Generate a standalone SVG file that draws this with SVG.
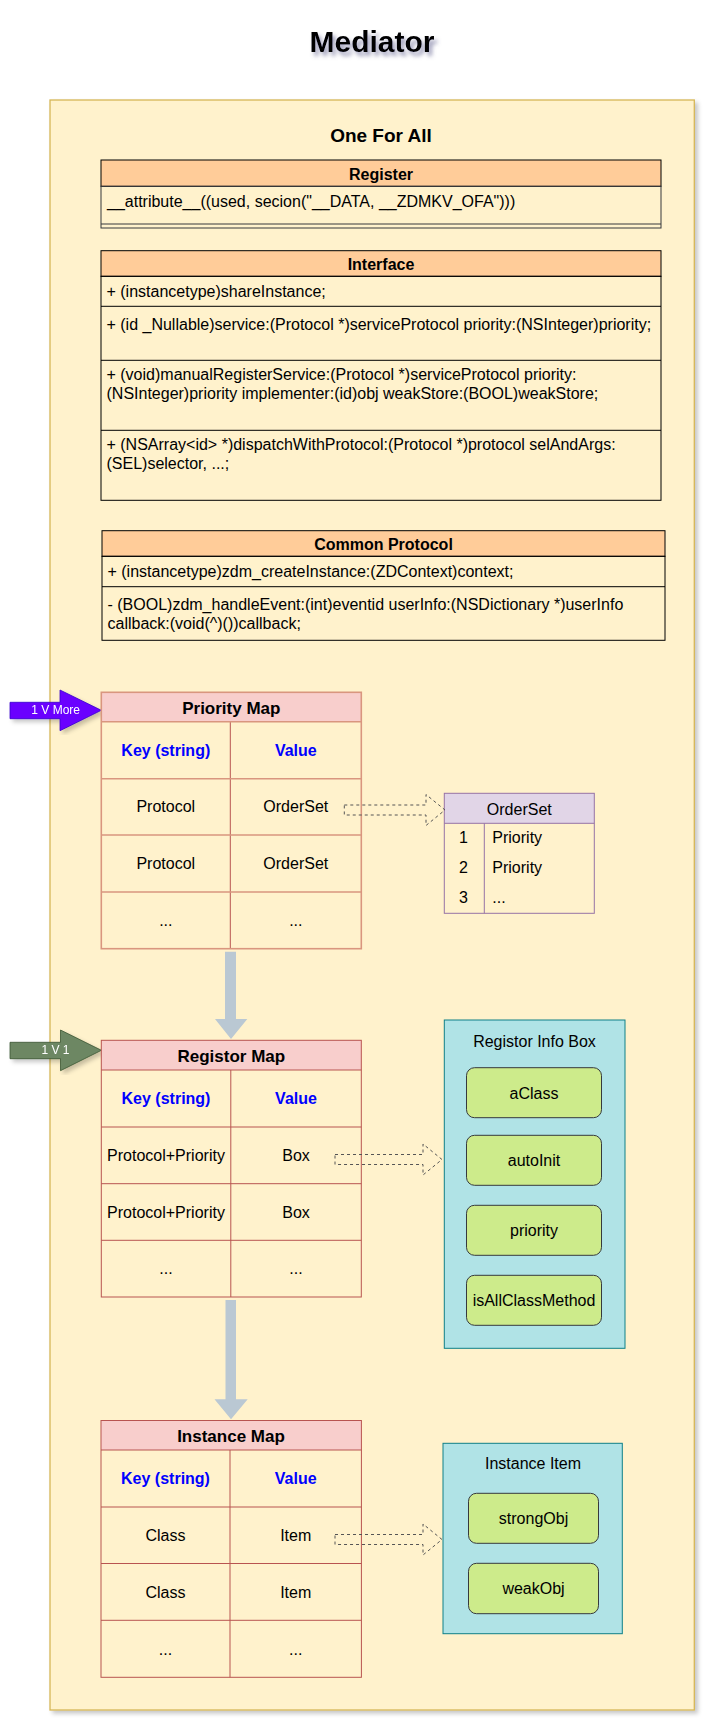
<svg xmlns="http://www.w3.org/2000/svg" width="711" height="1727" viewBox="0 0 711 1727">
<defs>
<filter id="sh" x="-5%" y="-5%" width="115%" height="115%"><feDropShadow dx="3" dy="3" stdDeviation="2" flood-color="#000" flood-opacity="0.22"/></filter>
<filter id="tsh" x="-20%" y="-40%" width="150%" height="200%"><feDropShadow dx="3" dy="4" stdDeviation="2.2" flood-color="#5a5a8a" flood-opacity="0.6"/></filter>
<style>
text{font-family:"Liberation Sans",Arial,Helvetica,sans-serif;fill:#000;}
.t16{font-size:16px;}
.c{text-anchor:middle;}
.b{font-weight:bold;}
.blue{fill:#0000ff;font-weight:bold;font-size:16px;text-anchor:middle;}
.hdr{fill:#ffcc99;stroke:#000;stroke-width:1;}
.body{fill:none;stroke:#000;stroke-width:1;}
.mapH{fill:#f8cecc;}
.pm{stroke:#d9967f;stroke-width:1.6;fill:none;}
.rm{stroke:#b85450;stroke-width:1;fill:none;}
.grn{fill:#cdeb8b;stroke:#36393d;stroke-width:1;}
.cyan{fill:#b0e3e6;stroke:#0e8088;stroke-width:1;}
.dash{fill:none;stroke:#555;stroke-width:1;stroke-dasharray:3 3;}
.thick{fill:#bac8d3;stroke:none;}
</style>
</defs>
<rect width="711" height="1727" fill="#fff"/>

<g id="title">
<text x="372" y="52" class="c b" font-size="30" filter="url(#tsh)">Mediator</text>
</g>

<g id="container">
<rect x="50" y="100" width="644.3" height="1610" fill="#fff2cc" stroke="#d6b656" stroke-width="1.3" filter="url(#sh)"/>
<text x="381" y="141.5" class="c b" font-size="19">One For All</text>
</g>

<g id="register">
<rect x="101" y="160" width="560" height="26.3" class="hdr" stroke="#36393d"/>
<rect x="101" y="186.3" width="560" height="41.7" fill="none" stroke="#36393d"/>
<line x1="101" y1="224" x2="661" y2="224" stroke="#36393d"/>
<text x="381" y="180" class="t16 c b">Register</text>
<text x="107" y="206.5" class="t16">__attribute__((used, secion("__DATA, __ZDMKV_OFA")))</text>
</g>

<g id="interface">
<rect x="101" y="250.7" width="560" height="25.6" class="hdr"/>
<rect x="101" y="276.3" width="560" height="224" class="body"/>
<line x1="101" y1="306.3" x2="661" y2="306.3" stroke="#000"/>
<line x1="101" y1="360.3" x2="661" y2="360.3" stroke="#000"/>
<line x1="101" y1="430.3" x2="661" y2="430.3" stroke="#000"/>
<text x="381" y="270" class="t16 c b">Interface</text>
<text x="106.5" y="296.5" class="t16">+ (instancetype)shareInstance;</text>
<text x="106.5" y="330" class="t16">+ (id _Nullable)service:(Protocol *)serviceProtocol priority:(NSInteger)priority;</text>
<text x="106.5" y="380" class="t16">+ (void)manualRegisterService:(Protocol *)serviceProtocol priority:</text>
<text x="106.5" y="399.3" class="t16">(NSInteger)priority implementer:(id)obj weakStore:(BOOL)weakStore;</text>
<text x="106.5" y="450" class="t16">+ (NSArray&lt;id&gt; *)dispatchWithProtocol:(Protocol *)protocol selAndArgs:</text>
<text x="106.5" y="469.3" class="t16">(SEL)selector, ...;</text>
</g>

<g id="common-protocol">
<rect x="102" y="530.7" width="563" height="25.6" class="hdr"/>
<rect x="102" y="556.3" width="563" height="84" class="body"/>
<line x1="102" y1="586.7" x2="665" y2="586.7" stroke="#000"/>
<text x="383.5" y="550" class="t16 c b">Common Protocol</text>
<text x="107.5" y="576.7" class="t16">+ (instancetype)zdm_createInstance:(ZDContext)context;</text>
<text x="107.5" y="610" class="t16">- (BOOL)zdm_handleEvent:(int)eventid userInfo:(NSDictionary *)userInfo</text>
<text x="107.5" y="629.3" class="t16">callback:(void(^)())callback;</text>
</g>

<g id="arrow-1vmore" filter="url(#sh)">
<polygon points="10,702.3 60,702.3 60,690 101.3,710.3 60,730.7 60,718.7 10,718.7" fill="#6a00ff" stroke="#3700cc" stroke-width="0.8"/>
<text x="55.7" y="714" class="c" font-size="12" style="fill:#fff">1 V More</text>
</g>

<g id="priority-map">
<rect x="101.3" y="692.3" width="260" height="29.4" class="mapH"/>
<line x1="230.3" y1="721.7" x2="230.3" y2="948.7" stroke="#b85450"/>
<rect x="101.3" y="692.3" width="260" height="256.4" class="pm"/>
<line x1="101.3" y1="721.7" x2="361.3" y2="721.7" class="pm"/>
<line x1="101.3" y1="778.7" x2="361.3" y2="778.7" class="pm"/>
<line x1="101.3" y1="835" x2="361.3" y2="835" class="pm"/>
<line x1="101.3" y1="892" x2="361.3" y2="892" class="pm"/>
<text x="231.3" y="713.5" class="c b" font-size="17">Priority Map</text>
<text x="165.8" y="756" class="blue">Key (string)</text>
<text x="295.8" y="756" class="blue">Value</text>
<text x="165.8" y="812.3" class="t16 c">Protocol</text>
<text x="295.8" y="812.3" class="t16 c">OrderSet</text>
<text x="165.8" y="869" class="t16 c">Protocol</text>
<text x="295.8" y="869" class="t16 c">OrderSet</text>
<text x="165.8" y="926" class="t16 c">...</text>
<text x="295.8" y="926" class="t16 c">...</text>
</g>

<g id="orderset">
<rect x="444.3" y="793.3" width="150" height="30" fill="#e1d5e7"/>
<rect x="444.3" y="793.3" width="150" height="120" fill="none" stroke="#9673a6"/>
<line x1="444.3" y1="823.3" x2="594.3" y2="823.3" stroke="#9673a6"/>
<line x1="484.3" y1="823.3" x2="484.3" y2="913.3" stroke="#9673a6"/>
<text x="519.3" y="814.5" class="t16 c">OrderSet</text>
<text x="463.5" y="843.3" class="t16 c">1</text>
<text x="492.3" y="843.3" class="t16">Priority</text>
<text x="463.5" y="873.3" class="t16 c">2</text>
<text x="492.3" y="873.3" class="t16">Priority</text>
<text x="463.5" y="902.7" class="t16 c">3</text>
<text x="492.3" y="902.7" class="t16">...</text>
</g>

<g id="arrow-1v1" filter="url(#sh)">
<polygon points="10,1042.3 60.5,1042.3 60.5,1030 101.4,1050.3 60.5,1070.7 60.5,1058.7 10,1058.7" fill="#6d8764" stroke="#3a5431" stroke-width="0.8"/>
<text x="55.5" y="1054.3" class="c" font-size="12" style="fill:#fff">1 V 1</text>
</g>

<g id="registor-map">
<rect x="101.3" y="1040.3" width="260" height="29.7" class="mapH"/>
<rect x="101.3" y="1040.3" width="260" height="256.7" class="rm"/>
<line x1="230.8" y1="1070" x2="230.8" y2="1297" class="rm"/>
<line x1="101.3" y1="1070" x2="361.3" y2="1070" class="rm"/>
<line x1="101.3" y1="1127" x2="361.3" y2="1127" class="rm"/>
<line x1="101.3" y1="1183.7" x2="361.3" y2="1183.7" class="rm"/>
<line x1="101.3" y1="1240.3" x2="361.3" y2="1240.3" class="rm"/>
<text x="231.3" y="1061.5" class="c b" font-size="17">Registor Map</text>
<text x="166" y="1104" class="blue">Key (string)</text>
<text x="296" y="1104" class="blue">Value</text>
<text x="166" y="1161" class="t16 c">Protocol+Priority</text>
<text x="296" y="1161" class="t16 c">Box</text>
<text x="166" y="1217.5" class="t16 c">Protocol+Priority</text>
<text x="296" y="1217.5" class="t16 c">Box</text>
<text x="166" y="1274" class="t16 c">...</text>
<text x="296" y="1274" class="t16 c">...</text>
</g>

<g id="registor-info-box">
<rect x="444.3" y="1020" width="180.7" height="328.3" class="cyan"/>
<text x="534.5" y="1046.7" class="t16 c">Registor Info Box</text>
<rect x="466.5" y="1067.7" width="135" height="50" rx="8" class="grn"/>
<text x="534" y="1098.5" class="t16 c">aClass</text>
<rect x="466.5" y="1135.3" width="135" height="50" rx="8" class="grn"/>
<text x="534" y="1166" class="t16 c">autoInit</text>
<rect x="466.5" y="1205.3" width="135" height="50" rx="8" class="grn"/>
<text x="534" y="1236" class="t16 c">priority</text>
<rect x="466.5" y="1275.3" width="135" height="50" rx="8" class="grn"/>
<text x="534" y="1306" class="t16 c">isAllClassMethod</text>
</g>

<g id="instance-map">
<rect x="101" y="1420.5" width="260.4" height="29.5" class="mapH"/>
<rect x="101" y="1420.5" width="260.4" height="256.8" class="rm"/>
<line x1="230" y1="1450" x2="230" y2="1677.3" class="rm"/>
<line x1="101" y1="1450" x2="361.4" y2="1450" class="rm"/>
<line x1="101" y1="1507" x2="361.4" y2="1507" class="rm"/>
<line x1="101" y1="1563.5" x2="361.4" y2="1563.5" class="rm"/>
<line x1="101" y1="1620.3" x2="361.4" y2="1620.3" class="rm"/>
<text x="231" y="1441.5" class="c b" font-size="17">Instance Map</text>
<text x="165.5" y="1484" class="blue">Key (string)</text>
<text x="295.7" y="1484" class="blue">Value</text>
<text x="165.5" y="1541" class="t16 c">Class</text>
<text x="295.7" y="1541" class="t16 c">Item</text>
<text x="165.5" y="1597.5" class="t16 c">Class</text>
<text x="295.7" y="1597.5" class="t16 c">Item</text>
<text x="165.5" y="1654.5" class="t16 c">...</text>
<text x="295.7" y="1654.5" class="t16 c">...</text>
</g>

<g id="instance-item">
<rect x="443" y="1443.3" width="179.3" height="190.4" class="cyan"/>
<text x="533" y="1469.3" class="t16 c">Instance Item</text>
<rect x="468.5" y="1493.3" width="130" height="50" rx="8" class="grn"/>
<text x="533.5" y="1524" class="t16 c">strongObj</text>
<rect x="468.5" y="1563.3" width="130" height="50.4" rx="8" class="grn"/>
<text x="533.5" y="1594" class="t16 c">weakObj</text>
</g>

<g id="connectors">
<polygon class="dash" points="344.3,805 426,805 426,794.5 445,810 426,825.5 426,815 344.3,815"/>
<polygon class="dash" points="335,1154.5 423,1154.5 423,1144 442,1159.5 423,1175 423,1164.5 335,1164.5"/>
<polygon class="dash" points="335,1534.5 423,1534.5 423,1524 442,1539.5 423,1555 423,1544.5 335,1544.5"/>
<polygon class="thick" points="225,951.7 236,951.7 236,1019 247.3,1019 231,1039 215,1019 225,1019"/>
<polygon class="thick" points="225.5,1300 236,1300 236,1399.3 247.7,1399.3 231,1419.3 214.5,1399.3 225.5,1399.3"/>
</g>
</svg>
